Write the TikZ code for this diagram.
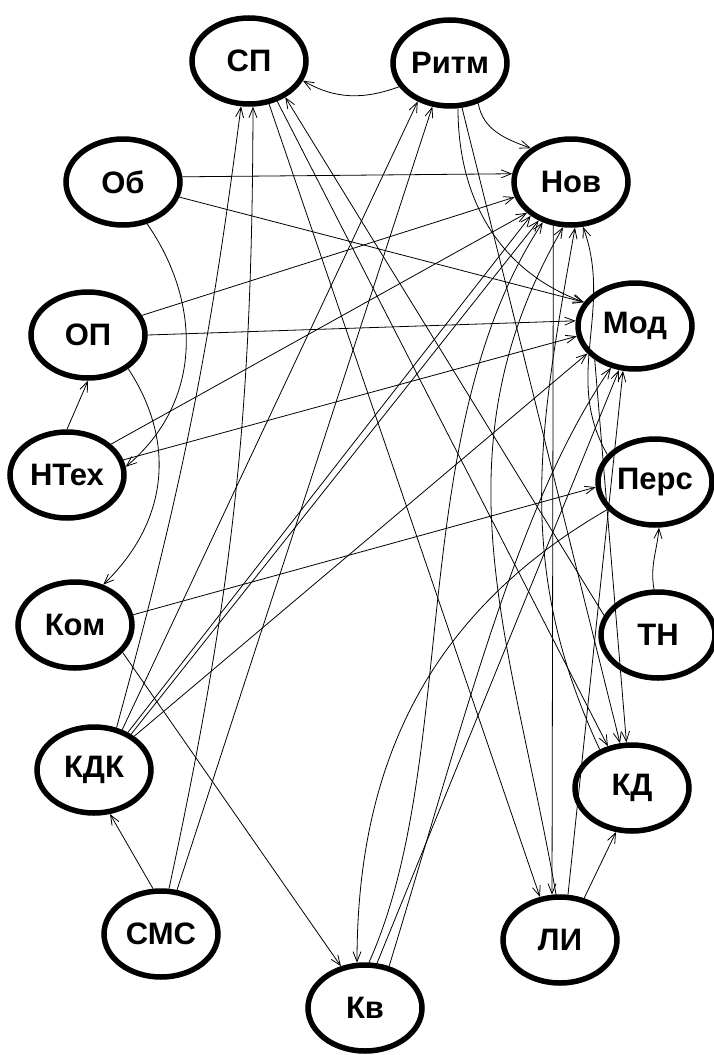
\documentclass[tikz,border=0pt]{standalone}
\usepackage{fontspec}
\setmainfont{Liberation Sans}
\usetikzlibrary{shapes.geometric,arrows.meta}
\begin{document}
\begin{tikzpicture}[x=1pt,y=-1pt,
  nd/.style={ellipse,draw,line width=5.5pt,minimum width=114pt,minimum height=86pt,inner sep=0pt,font=\bfseries\fontsize{31}{31}\selectfont},
  e/.style={line width=0.8pt,-{Straight Barb[length=10pt,width=8pt]}}]
\useasboundingbox[fill=white] (0,0) rectangle (714,1055);
\node[nd] (sp)   at (249,61)  {СП};
\node[nd] (ritm) at (450,63)  {Ритм};
\node[nd] (ob)   at (123,182) {Об};
\node[nd] (nov)  at (571,182) {Нов};
\node[nd] (op)   at (88,335)  {ОП};
\node[nd] (mod)  at (635,326) {Мод};
\node[nd] (ntex) at (67,475)  {НТех};
\node[nd] (pers) at (655,482) {Перс};
\node[nd] (kom)  at (75,625)  {Ком};
\node[nd] (tn)   at (658,635) {ТН};
\node[nd] (kdk)  at (94,770)  {КДК};
\node[nd] (kd)   at (632,788) {КД};
\node[nd] (sms)  at (161,934) {СМС};
\node[nd] (li)   at (560,940) {ЛИ};
\node[nd] (kv)   at (365,1008) {Кв};
% top
\draw[e] (ritm.205) to[out=200,in=-30] (sp.-20);
\draw[e] (ritm.-55) to[out=-80,in=160] (nov.140);
\draw[e] (ritm.-80) to[out=-90,in=160] (mod.155);
\draw[e] (ritm.-75) -- (kd.105);
% left column
\draw[e] (ob.5) -- (nov.172);
\draw[e] (ob.-15) -- (mod.155);
\draw[e] (ob.-60) .. controls (200,300) and (205,400) .. (ntex.8);
\draw[e] (op.20) -- (nov.195);
\draw[e] (op.0) -- (mod.175);
\draw[e] (op.-40) .. controls (175,440) and (170,520) .. (kom.55);
\draw[e] (ntex.90) -- (op.-90);
\draw[e] (ntex.35) -- (nov.215);
\draw[e] (ntex.15) -- (mod.190);
\draw[e] (kom.10) -- (pers.185);
\draw[e] (kom.-30) -- (kv.120);
% КДК, СМС
\draw[e] (kdk.62) to[bend right=4] (sp.-100);
\draw[e] (kdk.55) -- (ritm.-130);
\draw[e] (kdk.48) -- (nov.-140);
\draw[e] (kdk.44) -- (nov.-130);
\draw[e] (kdk.40) -- (mod.-150);
\draw[e] (sms.100) -- (kdk.-70);
\draw[e] (sms.80) to[bend right=6] (sp.-85);
\draw[e] (sms.70) -- (ritm.-112);
% Кв
\draw[e] (kv.85) .. controls (460,760) and (405,430) .. (nov.-125);
\draw[e] (kv.75) -- (mod.-110);
\draw[e] (pers.-150) to[out=210,in=90] (kv.100);
% right side
\draw[e] (sp.-65) -- (li.115);
\draw[e] (sp.-55) -- (kd.120);
\draw[e] (tn.160) -- (sp.-45);
\draw[e] (li.60) -- (kd.-110);
\draw[e] (tn.95) to[out=100,in=-95] (pers.-85);
\draw[e] (pers.150) to[out=120,in=-70] (nov.-75);
\draw[e] (li.95) to[out=100,in=-120] (nov.-100);
\draw[e] (kd.130) to[out=115,in=-100] (nov.-85);
\draw[e] (kv.60) .. controls (470,700) and (520,500) .. (mod.-120);
\draw[e] (li.80) -- (mod.-105);
\draw[e] (nov.-112) -- (li.100);
\draw[e] (mod.-140) -- (kd.97);
\end{tikzpicture}
\end{document}
